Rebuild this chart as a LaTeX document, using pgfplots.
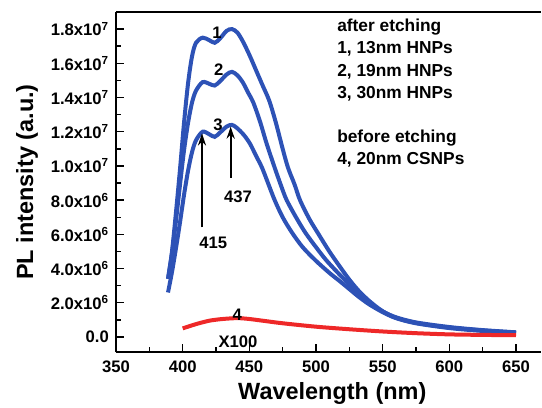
\documentclass[border=0pt]{standalone}
\usepackage{fontspec}
\setmainfont{Liberation Sans}
\usepackage{pgfplots}
\pgfplotsset{compat=1.18}
\usetikzlibrary{arrows.meta}
\definecolor{cblue}{RGB}{45,82,182}
\definecolor{cred}{RGB}{238,40,40}
\newcommand{\tf}{\bfseries\fontsize{12.5}{14}\selectfont}
\newcommand{\lf}{\bfseries\fontsize{13}{15}\selectfont}
\begin{document}
\begin{tikzpicture}
\begin{axis}[
  scale only axis, width=318.75pt, height=255pt,
  xmin=350, xmax=668.75, ymin=-0.88, ymax=19.0,
  axis x line=box, axis y line=left,
  axis line style={-, line width=1.2pt},
  xtick pos=left,
  tick align=inside,
  xtick={350,400,450,500,550,600,650},
  xticklabels={350,400,450,500,550,600,650},
  ytick={0,2,4,6,8,10,12,14,16,18},
  yticklabels={0.0,2.0x10\textsuperscript{6},4.0x10\textsuperscript{6},6.0x10\textsuperscript{6},8.0x10\textsuperscript{6},1.0x10\textsuperscript{7},1.2x10\textsuperscript{7},1.4x10\textsuperscript{7},1.6x10\textsuperscript{7},1.8x10\textsuperscript{7}},
  minor tick num=1,
  major tick length=6pt, minor tick length=3.5pt,
  every tick/.style={black, line width=1.1pt},
  ticklabel style={font=\tf},
  xticklabel style={yshift=-3pt},
  yticklabel style={xshift=-1.8pt},
  xlabel={Wavelength (nm)},
  ylabel={PL intensity (a.u.)},
  label style={font=\bfseries\fontsize{17.6}{20}\selectfont},
  xlabel style={at={(axis description cs:0.509,-0.141)}, anchor=base},
  ylabel style={at={(axis description cs:-0.195,0.5)}, anchor=base, rotate=0},
  clip=false,
]
% curve 1
\addplot[cblue, line width=3pt, smooth] coordinates {
(389,3.4)(392,5.0)(395,7.3)(398,9.8)(401,12.5)(404,14.8)(407,16.4)(410,17.2)(415,17.5)
(420,17.35)(424,17.2)(428,17.45)(433,17.9)(437,18.0)(441,17.8)(445,17.3)(450,16.5)
(455,15.6)(460,14.7)(465,13.8)(470,12.5)(475,11.0)(479,9.9)(484,8.9)(488,8.0)(495,6.9)
(502,6.0)(510,5.0)(518,4.1)(525,3.35)(532,2.7)(540,2.1)(550,1.5)(560,1.15)(575,0.85)
(600,0.58)(625,0.4)(650,0.27)};
% curve 2
\addplot[cblue, line width=3pt, smooth] coordinates {
(389,3.4)(392,4.9)(395,6.8)(398,8.9)(401,10.9)(404,12.5)(407,13.7)(410,14.4)(415,14.9)
(420,14.8)(424,14.7)(428,14.95)(433,15.35)(437,15.5)(441,15.3)(445,14.9)(449,14.3)
(453,13.7)(458,12.6)(463,11.3)(469,9.9)(474,8.8)(478,8.0)(485,7.0)(492,6.1)(500,5.25)
(507,4.55)(514,3.95)(522,3.3)(530,2.65)(540,2.0)(550,1.5)(560,1.12)(575,0.82)(600,0.55)
(625,0.38)(650,0.26)};
% curve 3
\addplot[cblue, line width=3pt, smooth] coordinates {
(389,2.6)(392,3.8)(395,5.2)(398,6.7)(401,8.3)(404,9.7)(407,10.8)(410,11.5)(415,12.0)
(420,11.85)(424,11.7)(428,11.95)(433,12.3)(437,12.4)(441,12.2)(446,11.8)(450.5,11.3)
(455,10.6)(459.5,9.9)(464,9.0)(469,8.0)(475,7.0)(482,6.1)(490,5.25)(500,4.45)(510,3.75)
(518,3.25)(525,2.8)(532,2.35)(540,1.9)(550,1.45)(560,1.1)(575,0.8)(600,0.52)(625,0.35)
(650,0.24)};
% curve 4 (x100)
\addplot[cred, line width=3pt, smooth] coordinates {
(400,0.5)(410,0.75)(420,0.95)(430,1.05)(441,1.1)(450,1.05)(460,0.95)(475,0.8)(500,0.6)
(525,0.45)(550,0.32)(575,0.22)(600,0.15)(625,0.12)(650,0.1)};
% annotations
\node[font=\tf] at (axis cs:425.75,17.8) {1};
\node[font=\tf] at (axis cs:427,15.6) {2};
\node[font=\tf] at (axis cs:426.5,12.4) {3};
\node[font=\tf] at (axis cs:441,1.3) {4};
\node[font=\tf] at (axis cs:441.5,-0.3) {X100};
\draw[-{Stealth[length=9pt,width=6pt]}, line width=1.6pt] (axis cs:414.5,6.4) -- (axis cs:414.5,11.9);
\draw[-{Stealth[length=9pt,width=6pt]}, line width=1.6pt] (axis cs:436,9.3) -- (axis cs:436,12.3);
\node[font=\tf] at (axis cs:423,5.5) {415};
\node[font=\tf] at (axis cs:441.5,8.2) {437};
\node[font=\lf, anchor=base west, inner sep=0pt] at (axis cs:515.75,17.84) {after etching};
\node[font=\lf, anchor=base west, inner sep=0pt] at (axis cs:515.75,16.55) {1, 13nm HNPs};
\node[font=\lf, anchor=base west, inner sep=0pt] at (axis cs:515.75,15.2) {2, 19nm HNPs};
\node[font=\lf, anchor=base west, inner sep=0pt] at (axis cs:515.75,13.92) {3, 30nm HNPs};
\node[font=\lf, anchor=base west, inner sep=0pt] at (axis cs:515.75,11.35) {before etching};
\node[font=\lf, anchor=base west, inner sep=0pt] at (axis cs:515.75,10.06) {4, 20nm CSNPs};
\end{axis}
\pgfresetboundingbox
\path ([shift={(-87pt,-41.25pt)}]current axis.south west) rectangle ([shift={(0.75pt,9pt)}]current axis.north east);
\end{tikzpicture}
\end{document}
